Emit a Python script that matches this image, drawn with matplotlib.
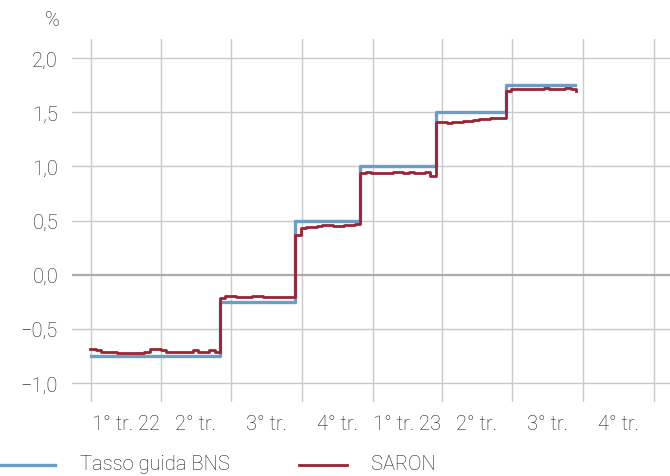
import pandas as pd
import matplotlib.pyplot as plt
from matplotlib.lines import Line2D

plt.rcParams['font.family'] = ['Roboto', 'DejaVu Sans']
plt.rcParams['font.weight'] = 'light'

# SNB policy rate: change dates and levels (%)
policy_dates = ['2022-01-01', '2022-06-17', '2022-09-23', '2022-12-16',
                '2023-03-24', '2023-06-23', '2023-09-21']
policy_rate = [-0.75, -0.25, 0.50, 1.00, 1.50, 1.75, 1.75]

# SARON, weekly readings (Fridays) from 31.12.2021 to 22.09.2023
saron_start = '2021-12-31'
saron = [
    # to June 2022
    -0.69, -0.70, -0.71, -0.71, -0.71, -0.72, -0.72, -0.72, -0.72, -0.72,
    -0.71, -0.69, -0.69, -0.70, -0.71, -0.71, -0.71, -0.71, -0.71, -0.70,
    -0.71, -0.71, -0.70, -0.71,
    # June - September 2022
    -0.22, -0.20, -0.20, -0.21, -0.21, -0.21, -0.20, -0.20, -0.21, -0.21,
    -0.21, -0.21, -0.21, -0.21,
    # September - December 2022
    0.37, 0.43, 0.44, 0.44, 0.45, 0.46, 0.46, 0.45, 0.45, 0.46, 0.46, 0.47,
    # December 2022 - March 2023
    0.94, 0.95, 0.94, 0.94, 0.94, 0.94, 0.95, 0.95, 0.94, 0.95, 0.94, 0.94,
    0.95, 0.91,
    # March - June 2023
    1.41, 1.41, 1.40, 1.41, 1.41, 1.42, 1.42, 1.43, 1.44, 1.44, 1.45, 1.45,
    1.45,
    # June - September 2023
    1.70, 1.71, 1.71, 1.71, 1.71, 1.71, 1.71, 1.72, 1.71, 1.71, 1.71, 1.72,
    1.71, 1.70,
]

quarter_labels = ['1° tr. 22', '2° tr.', '3° tr.', '4° tr.',
                  '1° tr. 23', '2° tr.', '3° tr.', '4° tr.']
y_ticks = [-1.0, -0.5, 0.0, 0.5, 1.0, 1.5, 2.0]

blue = '#6b9dc6'
red = '#9b2335'
grid_col = '#c9c9cb'
text_col = '#1e1e1e'
fs = 14.5

saron_dates = pd.date_range(saron_start, periods=len(saron), freq='7D')
policy_dates = pd.to_datetime(policy_dates)

fig = plt.figure(figsize=(6.7, 4.77), dpi=100)
ax = fig.add_axes([72 / 670, 1 - 403 / 477, 1 - 72 / 670, (403 - 40) / 477])

ax.plot(policy_dates, policy_rate, drawstyle='steps-post', color=blue, lw=2.4,
        zorder=3)
ax.plot(saron_dates, saron, drawstyle='steps-post', color=red, lw=2.0,
        zorder=4)

ax.set_xlim(pd.Timestamp('2021-12-07'), pd.Timestamp('2024-01-22'))
ax.set_ylim(-1.176, 2.176)

# quarter boundaries as gridlines, labels in the middle of each quarter
q_starts = pd.date_range('2022-01-01', '2024-01-01', freq='QS')
q_mids = [q_starts[i] + (q_starts[i + 1] - q_starts[i]) / 2 for i in range(len(q_starts) - 1)]
ax.set_xticks(q_starts)
ax.set_xticklabels([''] * len(q_starts))
ax.set_xticks(q_mids, minor=True)
ax.set_xticklabels(quarter_labels, minor=True)
ax.tick_params(axis='x', which='both', length=0)
ax.tick_params(axis='x', which='minor', pad=9, labelsize=fs, colors=text_col)
for d in q_starts:
    ax.axvline(d, color=grid_col, lw=1.0, zorder=1)

ax.set_yticks(y_ticks)
ax.set_yticklabels([f'{v:.1f}'.replace('.', ',').replace('-', '\u2212') for v in y_ticks])
ax.tick_params(axis='y', length=0, pad=10, labelsize=fs, colors=text_col)
for v in y_ticks:
    if v == 0:
        ax.axhline(v, color='#acacae', lw=1.6, zorder=1)
    else:
        ax.axhline(v, color=grid_col, lw=1.0, zorder=1)

for s in ax.spines.values():
    s.set_visible(False)

fig.text(52 / 670, 1 - 21 / 477, '%', ha='center', va='center',
         fontsize=fs, color=text_col)

# legend along the bottom edge
ly = 1 - 466 / 477
fig.add_artist(Line2D([0 / 670, 55 / 670], [ly, ly], color=blue, lw=2.4))
fig.text(80 / 670, 1 - 465 / 477, 'Tasso guida BNS', ha='left', va='center',
         fontsize=fs, color=text_col)
fig.add_artist(Line2D([299 / 670, 347 / 670], [ly, ly], color=red, lw=2.0))
fig.text(371 / 670, 1 - 465 / 477, 'SARON', ha='left', va='center',
         fontsize=fs, color=text_col)

plt.savefig('out.png', dpi=100)
